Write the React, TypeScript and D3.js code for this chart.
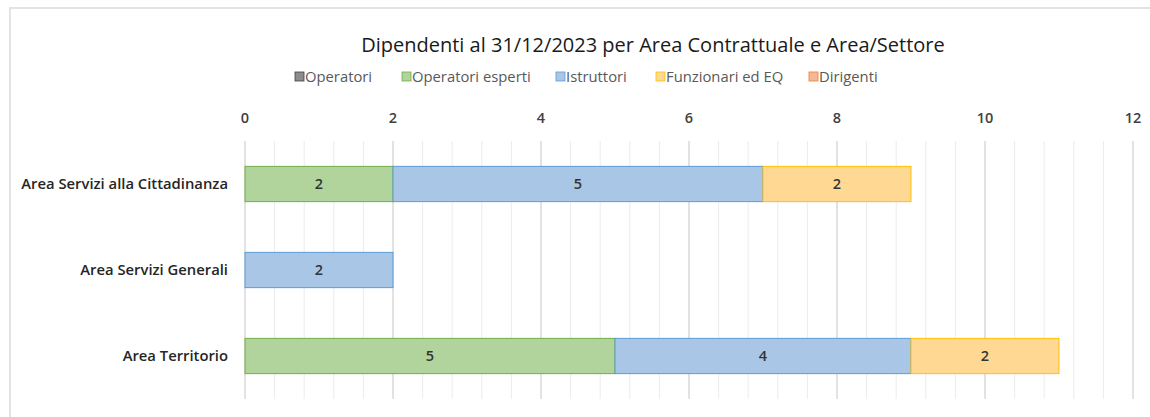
import React from "react";
import { scaleLinear, scaleBand, range } from "d3";

const categories = ["Area Servizi alla Cittadinanza", "Area Servizi Generali", "Area Territorio"];
const seriesNames = ["Operatori", "Operatori esperti", "Istruttori", "Funzionari ed EQ", "Dirigenti"];
const operatori = [0, 0, 0];
const operatoriEsperti = [2, 0, 5];
const istruttori = [5, 2, 4];
const funzionari = [2, 0, 2];
const dirigenti = [0, 0, 0];
const tickValues = [0, 2, 4, 6, 8, 10, 12];

const fills = ["#8c8c8c", "#b1d49c", "#a9c6e7", "#ffd894", "#f6b894"];
const strokes = ["#404040", "#70ad47", "#5b9bd5", "#ffc000", "#ed7d31"];

const font = "'Open Sans', sans-serif";

const App = () => {
  const width = 1150;
  const height = 417;
  const margin = { top: 141, right: 17, bottom: 18, left: 245 };
  const innerHeight = height - margin.top - margin.bottom;

  const series = [operatori, operatoriEsperti, istruttori, funzionari, dirigenti];

  const xScale = scaleLinear().domain([0, 12]).range([0, 888]);
  const yScale = scaleBand().domain(categories).range([0, innerHeight]).paddingInner(0.59).paddingOuter(0.295);

  const minorTicks = range(0, 12.001, 0.4);

  // legend square positions
  const legendX = [295, 402, 556, 656, 809];

  return (
    <svg width={width} height={height} style={{ position: "absolute", left: 0, top: 0, fontFamily: font }}>
      <rect x={10} y={8} width={width} height={height} fill="#fff" stroke="#e3e3e3" strokeWidth={2} />
      <text x={653} y={52} textAnchor="middle" fontSize={20} fill="#1a1a1a">
        Dipendenti al 31/12/2023 per Area Contrattuale e Area/Settore
      </text>
      {seriesNames.map((name, i) => (
        <g key={name} transform={`translate(${legendX[i]}, 77)`}>
          <rect x={0} y={-5} width={9} height={9} fill={fills[i]} stroke={strokes[i]} strokeWidth={0.8} />
          <text x={10} y={5} fontSize={14.8} fill="#595959">{name}</text>
        </g>
      ))}
      <g transform={`translate(${margin.left}, ${margin.top})`}>
        {minorTicks.map((t, i) => (
          <line key={"m" + i} x1={xScale(t)} x2={xScale(t)} y1={0} y2={innerHeight}
            stroke="#ececec" strokeWidth={1} />
        ))}
        {tickValues.map((t) => (
          <g key={t} transform={`translate(${xScale(t)}, 0)`}>
            <line y1={0} y2={innerHeight} stroke="#d0d0d0" strokeWidth={1} />
            <text y={-18} textAnchor="middle" fontSize={14.5} fontWeight="600" fill="#404040">{t}</text>
          </g>
        ))}
        {categories.map((c, ci) => {
          let acc = 0;
          return (
            <g key={c}>
              <text x={-17} y={(yScale(c) as number) + yScale.bandwidth() / 2 + 5}
                textAnchor="end" fontSize={14.8} fontWeight="600" fill="#262626">{c}</text>
              {series.map((s, si) => {
                const v = s[ci];
                const x0 = acc;
                acc += v;
                if (!v) return null;
                return (
                  <g key={si}>
                    <rect x={xScale(x0)} y={yScale(c)} width={xScale(v) - xScale(0)} height={yScale.bandwidth()}
                      fill={fills[si]} stroke={strokes[si]} strokeWidth={1} />
                    <text x={xScale(x0 + v / 2)} y={(yScale(c) as number) + yScale.bandwidth() / 2 + 5}
                      textAnchor="middle" fontSize={14.5} fontWeight="600" fill="#333">{v}</text>
                  </g>
                );
              })}
            </g>
          );
        })}
      </g>
    </svg>
  );
};

export default App;
